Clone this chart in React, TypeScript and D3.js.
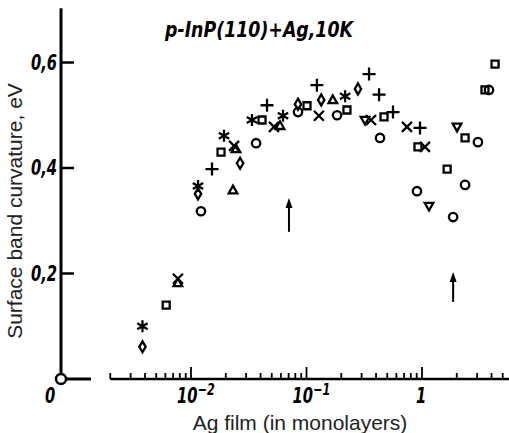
import React, { useEffect, useRef } from 'react';
import * as d3 from 'd3';

type Pt = [number, number];

// Ag coverage (monolayers) vs surface band curvature (eV), one list per marker
const stars: Pt[] = [[0.0038, 0.100], [0.0115, 0.366], [0.0193, 0.461], [0.0337, 0.491], [0.0626, 0.499], [0.216, 0.536]];
const diamonds: Pt[] = [[0.0038, 0.061], [0.0115, 0.351], [0.0266, 0.409], [0.0844, 0.521], [0.134, 0.529], [0.279, 0.550]];
const squares: Pt[] = [[0.0061, 0.140], [0.0182, 0.430], [0.0412, 0.491], [0.101, 0.518], [0.224, 0.510], [0.469, 0.497], [0.923, 0.440], [1.65, 0.398], [2.36, 0.457], [3.51, 0.548], [4.29, 0.597]];
const crosses: Pt[] = [[0.0077, 0.190], [0.0236, 0.442], [0.0523, 0.478], [0.128, 0.499], [0.362, 0.491], [0.741, 0.478], [1.06, 0.440]];
const trianglesUp: Pt[] = [[0.0077, 0.182], [0.0231, 0.358], [0.0245, 0.436], [0.059, 0.480], [0.169, 0.529]];
const pluses: Pt[] = [[0.0152, 0.398], [0.0455, 0.519], [0.123, 0.557], [0.348, 0.578], [0.425, 0.539], [0.561, 0.506], [0.961, 0.476]];
const circles: Pt[] = [[0.0122, 0.318], [0.0366, 0.447], [0.0844, 0.506], [0.184, 0.500], [0.433, 0.457], [0.905, 0.356], [1.86, 0.307], [2.36, 0.368], [3.05, 0.449], [3.80, 0.548]];
const trianglesDown: Pt[] = [[0.321, 0.491], [1.15, 0.328], [2.01, 0.478]];

// arrows: position, tail value, head value
const arrowX = [0.0705, 1.86];
const arrowFrom = [0.279, 0.146];
const arrowTo = [0.343, 0.203];

const yTicks = [0.2, 0.4, 0.6];
const yTickLabels = ['0,2', '0,4', '0,6'];
const xMajor = [0.01, 0.1, 1];
const xMajorLabels = [['10', '-2'], ['10', '-1'], ['1', '']];

const title = 'p-InP(110)+Ag,10K';

const shapes: Record<string, string> = {
  star: 'M0,-6V6M-5.2,-3L5.2,3M-5.2,3L5.2,-3',
  diamond: 'M0,-5.5L3.2,0L0,5.5L-3.2,0Z',
  square: 'M-3.5,-3.5h7v7h-7Z',
  cross: 'M-5,-5L5,5M-5,5L5,-5',
  triUp: 'M0,-4.5L4.3,3.2L-4.3,3.2Z',
  plus: 'M-6.5,0H6.5M0,-6.5V6.5',
  triDown: 'M0,4.5L4.3,-3.2L-4.3,-3.2Z',
};

const tickFont = "'DejaVu Sans Condensed', 'DejaVu Sans', sans-serif";

function App() {
  const ref = useRef<SVGSVGElement>(null);

  useEffect(() => {
    const svg = d3.select(ref.current);
    svg.selectAll('*').remove();

    const x = d3.scaleLog().domain([0.01, 1]).range([191, 422]);
    const y = d3.scaleLinear().domain([0, 0.6]).range([379, 62.5]);
    const x0 = 61;
    const yBase = y(0);

    // narrow italic labels, squeezed horizontally
    const label = (px: number, py: number, anchor: string, size = 20) =>
      svg.append('text').attr('transform', `translate(${px},${py}) scale(0.78,1)`)
        .attr('text-anchor', anchor)
        .attr('font-family', tickFont).attr('font-style', 'italic').attr('font-weight', 'bold')
        .attr('font-stretch', 'condensed').attr('font-size', size);

    // y axis
    svg.append('line').attr('x1', x0).attr('x2', x0).attr('y1', y(0.703)).attr('y2', yBase)
      .attr('stroke', '#000').attr('stroke-width', 3);
    yTicks.forEach((t, i) => {
      svg.append('line').attr('x1', x0).attr('x2', x0 + 13).attr('y1', y(t)).attr('y2', y(t))
        .attr('stroke', '#000').attr('stroke-width', 2.5);
      label(57, y(t) + 7, 'end', 21).text(yTickLabels[i]);
    });

    // broken x axis: short stub at origin, then log axis
    svg.append('line').attr('x1', x0).attr('x2', 91).attr('y1', yBase).attr('y2', yBase)
      .attr('stroke', '#000').attr('stroke-width', 3);
    svg.append('circle').attr('cx', x0).attr('cy', yBase).attr('r', 5)
      .attr('fill', '#fff').attr('stroke', '#000').attr('stroke-width', 2.5);
    label(50, 403, 'middle', 21).text('0');

    const xStart = 0.002;
    const xEnd = x.invert(509);
    svg.append('line').attr('x1', x(xStart)).attr('x2', 509).attr('y1', yBase).attr('y2', yBase)
      .attr('stroke', '#000').attr('stroke-width', 2.5);

    const minor: number[] = [];
    for (let e = -3; e <= 0; e++) {
      for (let m = 1; m <= 9; m++) {
        const v = m * Math.pow(10, e);
        if (v >= xStart && v <= xEnd) minor.push(v);
      }
    }
    minor.forEach(v => {
      const major = xMajor.some(t => Math.abs(t - v) < v * 1e-6);
      svg.append('line').attr('x1', x(v)).attr('x2', x(v)).attr('y1', yBase).attr('y2', yBase - (major ? 12 : 6))
        .attr('stroke', '#000').attr('stroke-width', 1.8);
    });
    xMajor.forEach((t, i) => {
      const [base, sup] = xMajorLabels[i];
      const txt = label(sup ? x(t) - 14 : x(t) - 6, 403, 'start', 21);
      txt.append('tspan').text(base);
      if (sup) txt.append('tspan').attr('dy', -8).attr('font-size', 16).text('\u2212' + sup.slice(1));
    });

    // axis titles
    svg.append('text').attr('transform', 'translate(22,211) rotate(-90)').attr('text-anchor', 'middle')
      .attr('font-family', "'Liberation Sans', Arial, sans-serif").attr('font-size', 21).attr('fill', '#222')
      .text('Surface band curvature, eV');
    svg.append('text').attr('x', 300).attr('y', 430).attr('text-anchor', 'middle')
      .attr('font-family', "'Liberation Sans', Arial, sans-serif").attr('font-size', 21).attr('fill', '#222')
      .text('Ag film (in monolayers)');

    // title
    svg.append('text').attr('x', 165).attr('y', 37)
      .attr('font-family', tickFont).attr('font-style', 'italic').attr('font-weight', 'bold')
      .attr('font-stretch', 'condensed').attr('font-size', 21)
      .attr('textLength', 188).attr('lengthAdjust', 'spacingAndGlyphs')
      .text(title);

    // arrows
    arrowX.forEach((v, i) => {
      const ax = x(v);
      const y1 = y(arrowFrom[i]);
      const y2 = y(arrowTo[i]);
      svg.append('line').attr('x1', ax).attr('x2', ax).attr('y1', y1).attr('y2', y2 + 6)
        .attr('stroke', '#000').attr('stroke-width', 2);
      svg.append('path').attr('d', `M${ax},${y2}L${ax - 3.5},${y2 + 10}L${ax + 3.5},${y2 + 10}Z`)
        .attr('fill', '#000');
    });

    // data markers
    const series: [Pt[], string][] = [
      [stars, 'star'], [diamonds, 'diamond'], [squares, 'square'], [crosses, 'cross'],
      [trianglesUp, 'triUp'], [pluses, 'plus'], [trianglesDown, 'triDown'],
    ];
    series.forEach(([data, shape]) => {
      svg.append('g').selectAll('path')
        .data(data)
        .enter()
        .append('path')
        .attr('transform', d => `translate(${x(d[0])},${y(d[1])})`)
        .attr('d', shapes[shape])
        .attr('fill', 'none')
        .attr('stroke', '#000')
        .attr('stroke-width', 2.3);
    });
    svg.append('g').selectAll('circle')
      .data(circles)
      .enter()
      .append('circle')
      .attr('cx', d => x(d[0]))
      .attr('cy', d => y(d[1]))
      .attr('r', 4.2)
      .attr('fill', 'none')
      .attr('stroke', '#000')
      .attr('stroke-width', 2.3);
  }, []);

  return (
    <svg ref={ref} width={509} height={433}
      style={{ position: 'absolute', left: 0, top: 0, background: '#fff' }} />
  );
}

export default App;
